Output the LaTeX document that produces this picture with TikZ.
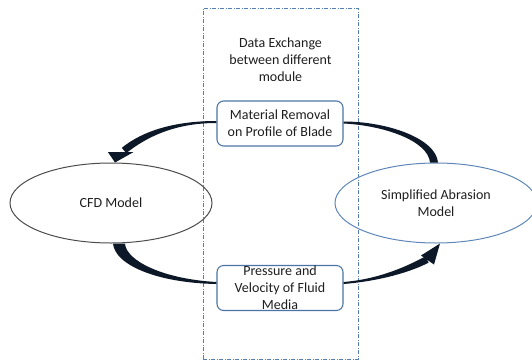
\documentclass[tikz,border=0pt]{standalone}
\usepackage{fontspec}
\setmainfont{Carlito}
\usetikzlibrary{shapes.geometric,calc}
\definecolor{framec}{RGB}{84,128,178}
\definecolor{boxc}{RGB}{75,115,165}
\definecolor{samc}{RGB}{95,135,185}
\definecolor{arrowc}{RGB}{12,24,40}
\definecolor{textc}{RGB}{30,30,30}
\begin{document}
\begin{tikzpicture}[x=0.75pt,y=-0.75pt,
	every node/.style={font=\fontsize{10.5}{12.75}\selectfont,text=textc},
	model/.style={ellipse,minimum width=151.5pt,minimum height=60pt,inner sep=0pt,align=center,line width=0.75pt},
	info/.style={draw=boxc,rounded corners=5pt,minimum width=94.5pt,minimum height=33.75pt,line width=0.8pt},
	exch/.style={draw=framec,dash pattern=on 3pt off 1.2pt on 0.6pt off 1.2pt,minimum width=116.25pt,minimum height=263.25pt,line width=0.6pt}]
	\useasboundingbox (0,0) rectangle (532,361);

	\node[exch] (frame) at (280.5,183.5) {};
	\node[align=center] (title) at (280.5,60) {Data Exchange\\between different\\module};

	\node[model,draw=black!70] (cfd) at (111,203) {CFD Model};
	\node[model,draw=samc] (sam) at (436,203) {Simplified Abrasion\\Model};

	\node[info,align=center] (mr) at (280,123.5) {Material Removal\\on Profile of Blade};
	\node[info] (pv) at (280,288) {};
	\node[align=center] (pvtext) at (pv) {Pressure and\\Velocity of Fluid\\Media};

	\fill[arrowc] ($(mr.west)+(0,-2.5)$) .. controls +(-42,0) and +(21,-17) .. ($(cfd.north)+(10.8,-14.7)$)
		-- ($(cfd.north)+(15.2,-9.3)$) .. controls +(20,-16) and +(-42,0) .. ($(mr.west)+(0,-0.5)$) -- cycle;
	\fill[arrowc] ($(cfd.north)+(4,0)$) -- ($(cfd.north)+(-3,-10.3)$) -- ($(cfd.north)+(22.3,-10.3)$) -- cycle;

	\fill[arrowc] ($(mr.east)+(0,-2)$) .. controls +(44,0) and +(-2,-24) .. ($(sam.north)+(2,0)$)
		-- ($(sam.north)+(-6,0)$) .. controls +(-2,-22) and +(40,2) .. ($(mr.east)+(0,0)$) -- cycle;

	\fill[arrowc] ($(cfd.south)+(2,0)$) .. controls +(2,22) and +(-58,-1) .. ($(pv.west)+(0,-4)$)
		-- ($(pv.west)+(0,-6)$) .. controls +(-54,-3) and +(1,17) .. ($(cfd.south)+(14,0)$) -- cycle;

	\fill[arrowc] ($(pv.east)+(0,-6)$) .. controls +(37,-3) and +(-17,9) .. ($(sam.south)+(-10.6,12.9)$)
		-- ($(sam.south)+(-7.4,19.1)$) .. controls +(-17,9) and +(37,-3) .. ($(pv.east)+(0,-4)$) -- cycle;
	\fill[arrowc] ($(sam.south)+(4,0)$) -- ($(sam.south)+(-15,12)$) -- ($(sam.south)+(-2,21)$) -- cycle;
\end{tikzpicture}
\end{document}
